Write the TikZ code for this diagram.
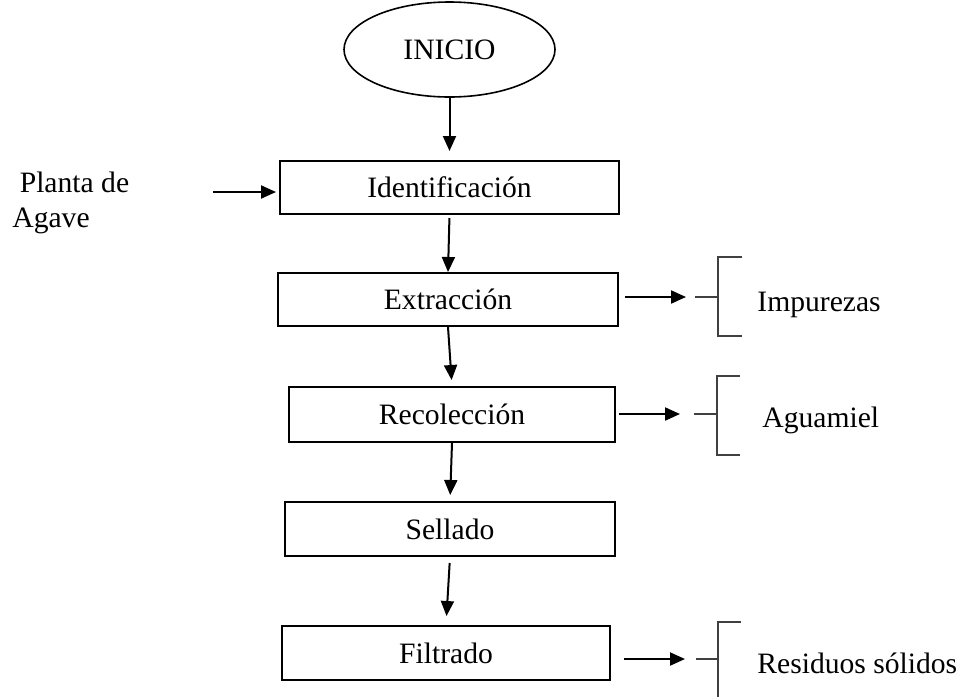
\documentclass[tikz,border=0pt]{standalone}
\usepackage{fontspec}
\setmainfont{Liberation Serif}
\usepackage{tikz}
\usetikzlibrary{shapes.geometric}
\usetikzlibrary{arrows.meta}

\begin{document}
\begin{tikzpicture}[x=0.5pt,y=-0.5pt,
  every node/.style={font=\fontsize{14.8}{17.5}\selectfont},
  proc/.style={rectangle, draw, line width=1pt, minimum height=26.5pt, inner sep=0pt},
  flow/.style={-{Triangle[length=7.5pt,width=6.5pt]}, line width=1pt},
  bracket/.style={draw=black!75, line width=0.7pt},
  outlabel/.style={anchor=base west, inner sep=0pt}]
\useasboundingbox (0,0) rectangle (961,697);
\node[ellipse, draw, line width=0.8pt, minimum width=105.5pt, minimum height=47.5pt, inner sep=0pt] (inicio) at (449.5,49.5) {INICIO};
\node[proc, minimum width=169.5pt] (ident) at (449.5,187.5) {Identificación};
\node[proc, minimum width=170pt] (extr) at (448,299.5) {Extracción};
\node[proc, minimum width=163pt, minimum height=27.5pt] (recol) at (452,414.5) {Recolección};
\node[proc, minimum width=165pt, minimum height=27pt] (sell) at (450,529) {Sellado};
\node[proc, minimum width=164pt, minimum height=27pt] (filt) at (446,653) {Filtrado};
\node[anchor=base west, inner sep=0pt, align=left] (planta) at (12,227) {\ Planta de\\Agave};
\node[outlabel] (impurezas) at (757,311) {Impurezas};
\node[outlabel] (aguamiel) at (762,427) {Aguamiel};
\node[outlabel] (residuos) at (757,673) {Residuos sólidos};
\coordinate (pin) at (213,192);
\coordinate (imp) at (695,297);
\coordinate (agu) at (694,414);
\coordinate (res) at (696,659);
% main line
\draw[flow, shorten >=4.5pt] (inicio.south) -- (ident.north);
\draw[flow, shorten <=1.5pt] (ident.south) -- (extr.north);
\draw[flow, shorten >=3pt] (extr.south) -- (recol.north);
\draw[flow, shorten >=3pt] (recol.south) -- (sell.north);
\draw[flow, shorten <=3pt, shorten >=4.5pt] (sell.south) -- (filt.north);
\draw[flow, shorten >=1.5pt] (pin) -- (pin -| ident.west);
% outputs
\draw[flow, shorten <=3pt, shorten >=4.5pt] (extr.east |- imp) -- (imp);
\draw[flow, shorten <=1.5pt, shorten >=7pt] (recol.east |- agu) -- (agu);
\draw[flow, shorten <=6.5pt, shorten >=5.5pt] (filt.east |- res) -- (res);
\draw[bracket] (imp) -- ++(23,0) (742,257) -| (718,336) -- (742,336);
\draw[bracket] (agu) -- ++(23,0) (740,376) -| (717,455) -- (740,455);
\draw[bracket] (res) -- ++(22,0) (741,622) -| (718,697);
\end{tikzpicture}
\end{document}
